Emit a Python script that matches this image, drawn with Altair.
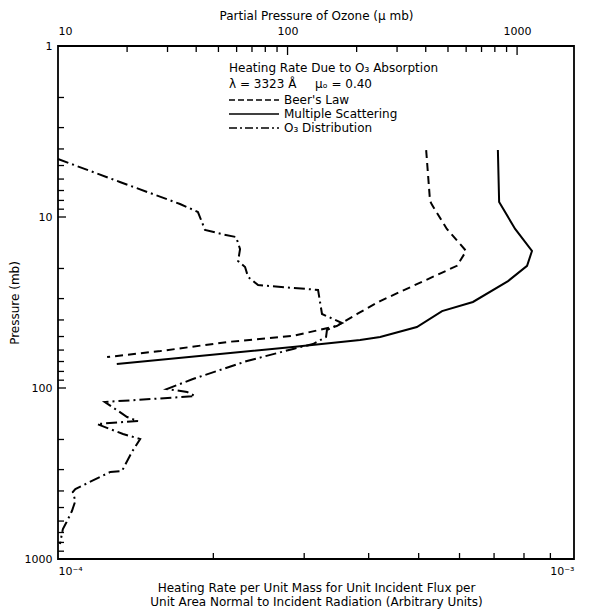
import altair as alt
import pandas as pd

# ---------------- data ----------------
beer_heating = [5.17e-4, 5.26e-4, 5.31e-4, 5.67e-4, 6.18e-4, 5.93e-4, 4.21e-4,
                3.80e-4, 3.47e-4, 2.85e-4, 2.13e-4, 1.58e-4, 1.245e-4]
beer_pressure = [4.06, 8.06, 8.52, 11.75, 15.8, 19.3, 31.0,
                 36.9, 43.4, 49.6, 53.8, 60.8, 65.9]

ms_heating = [7.12e-4, 7.16e-4, 7.69e-4, 8.29e-4, 8.11e-4, 7.45e-4, 6.37e-4,
              5.55e-4, 4.96e-4, 4.21e-4, 3.85e-4, 2.85e-4, 1.30e-4]
ms_pressure = [4.06, 8.17, 11.75, 15.8, 19.3, 23.7, 31.4,
               35.5, 44.0, 50.3, 52.4, 57.6, 72.4]

o3_partial = [10.0, 18.6, 34.0, 40.7, 43.7, 51.9, 59.7, 62.1, 60.9, 65.3, 67.3,
              74.4, 135.8, 141.3, 172.7, 148.5, 147.2, 129.1, 105.7, 66.6, 38.7,
              29.8, 36.5, 39.5, 25.9, 16.0, 20.0, 22.3, 14.8, 19.2, 22.8, 21.0,
              19.0, 16.9, 11.9, 11.6, 11.9, 11.5, 10.9, 10.5, 10.2]
o3_pressure = [4.58, 6.24, 8.39, 9.35, 11.9, 12.6, 13.1, 15.4, 18.1, 19.6, 22.4,
               25.0, 26.7, 36.9, 41.7, 45.8, 50.3, 55.3, 59.1, 69.5, 88.6,
               101.4, 105.5, 111.4, 115.9, 120.7, 147.8, 156.0, 162.4, 185.9, 198.7, 236.6,
               305.6, 309.8, 389.9, 405.7, 458.0, 524.0, 608.0, 668.0, 817.0]

bottom_label_values = [1e-4, 1e-3]
bottom_minor_ticks = [2e-4, 3e-4, 4e-4, 5e-4, 6e-4, 7e-4, 8e-4, 9e-4]
top_label_values = [10, 100, 1000]
top_minor_ticks = [20, 30, 40, 50, 60, 70, 80, 90, 200, 300, 400, 500, 600, 700, 800, 900]
top_major_ticks = [100, 1000]
left_label_values = [1, 10, 100, 1000]
left_minor_ticks = [2, 3, 4, 5, 6, 7, 8, 9, 20, 30, 40, 50, 60, 70, 80, 90,
                    200, 300, 400, 500, 600, 700, 800, 900]
left_major_ticks = [10, 100]

legend_heading = "Heating Rate Due to O\u2083 Absorption"
legend_lambda = "\u03bb = 3323 \u00c5"
legend_mu = "\u03bc\u2092 = 0.40"
legend_names = ["Beer's Law", "Multiple Scattering", "O\u2083 Distribution"]

FONT = "DejaVu Sans"
W, H = 516, 513

# ---------------- tables ----------------
beer_df = pd.DataFrame({"h": beer_heating, "p": beer_pressure, "i": range(len(beer_heating))})
ms_df = pd.DataFrame({"h": ms_heating, "p": ms_pressure, "i": range(len(ms_heating))})
o3_df = pd.DataFrame({"o": o3_partial, "p": o3_pressure, "i": range(len(o3_partial))})
bt_df = pd.DataFrame({"h": bottom_minor_ticks})
tt_df = pd.DataFrame({"o": top_minor_ticks})
ttM_df = pd.DataFrame({"o": top_major_ticks})
lt_df = pd.DataFrame({"p": left_minor_ticks})
ltM_df = pd.DataFrame({"p": left_major_ticks})

xb_scale = alt.Scale(type="log", domain=[1e-4, 1e-3])
xt_scale = alt.Scale(type="log", domain=[10, 1770])
y_scale = alt.Scale(type="log", domain=[1, 1000], reverse=True)

xb_axis = alt.Axis(
    orient="bottom", values=bottom_label_values,
    labelExpr="datum.value < 0.0005 ? '10\u207b\u2074' : '10\u207b\u00b3'",
    title=["Heating Rate per Unit Mass for Unit Incident Flux per",
           "Unit Area Normal to Incident Radiation (Arbitrary Units)"],
    ticks=False, domain=False, grid=False, labelPadding=6, titlePadding=6,
)
xt_axis = alt.Axis(
    orient="top", values=top_label_values, format="d",
    title="Partial Pressure of Ozone (\u03bc mb)",
    ticks=False, domain=False, grid=False, labelPadding=10, titlePadding=3,
)
y_axis = alt.Axis(
    values=left_label_values, format="d", title="Pressure (mb)",
    ticks=False, domain=False, grid=False, labelPadding=6, titlePadding=3,
)

xb = alt.X("h:Q", scale=xb_scale, axis=xb_axis)
xt = alt.X("o:Q", scale=xt_scale, axis=xt_axis)
y = alt.Y("p:Q", scale=y_scale, axis=y_axis)

LW = 2.0
beer = alt.Chart(beer_df).mark_line(color="black", strokeWidth=LW, strokeDash=[8, 5]).encode(
    x=xb, y=y, order="i:Q")
ms = alt.Chart(ms_df).mark_line(color="black", strokeWidth=LW).encode(
    x=xb, y=y, order="i:Q")
bticks = alt.Chart(bt_df).mark_rule(color="black", strokeWidth=1.3).encode(
    x=xb, y=alt.value(H), y2=alt.value(H - 6))
lticks = alt.Chart(lt_df).mark_rule(color="black", strokeWidth=1.3).encode(
    y=y, x=alt.value(0), x2=alt.value(6))
lticksM = alt.Chart(ltM_df).mark_rule(color="black", strokeWidth=1.3).encode(
    y=y, x=alt.value(0), x2=alt.value(8))

o3 = alt.Chart(o3_df).mark_line(color="black", strokeWidth=LW, strokeDash=[11, 4, 2, 4]).encode(
    x=xt, y=y, order="i:Q")
tticks = alt.Chart(tt_df).mark_rule(color="black", strokeWidth=1.3).encode(
    x=xt, y=alt.value(0), y2=alt.value(6))
tticksM = alt.Chart(ttM_df).mark_rule(color="black", strokeWidth=1.3).encode(
    x=xt, y=alt.value(0), y2=alt.value(9))

one = pd.DataFrame({"k": [0]})
def txt(s, x, yy, size=12):
    return alt.Chart(one).mark_text(align="left", baseline="middle", font=FONT,
                                    fontSize=size, color="black", text=s).encode(
        x=alt.value(x), y=alt.value(yy))

def sample(dash, yy):
    m = alt.Chart(one).mark_rule(color="black", strokeWidth=1.6, **({"strokeDash": dash} if dash else {}))
    return m.encode(x=alt.value(171), x2=alt.value(221), y=alt.value(yy))

legend = [
    txt(legend_heading, 171, 22),
    txt(legend_lambda, 171, 38),
    txt(legend_mu, 257, 38),
    sample([6, 3], 54), txt(legend_names[0], 226, 54),
    sample(None, 68), txt(legend_names[1], 226, 68),
    sample([8, 3, 2, 3], 82), txt(legend_names[2], 226, 82),
]

bottom_group = alt.layer(beer, ms, bticks, lticks, lticksM, *legend)
top_group = alt.layer(o3, tticks, tticksM)

chart = alt.layer(bottom_group, top_group).resolve_scale(x="independent").properties(
    width=W, height=H, padding={"left": 0, "top": 1, "right": 5, "bottom": 2}
).configure_view(stroke="black", strokeWidth=1.8).configure_axis(
    labelFont=FONT, titleFont=FONT, labelFontSize=11, titleFontSize=12,
    labelColor="black", titleColor="black", titleFontWeight="normal",
)

chart.save("out.html", embed_options={"renderer": "svg", "actions": False})
